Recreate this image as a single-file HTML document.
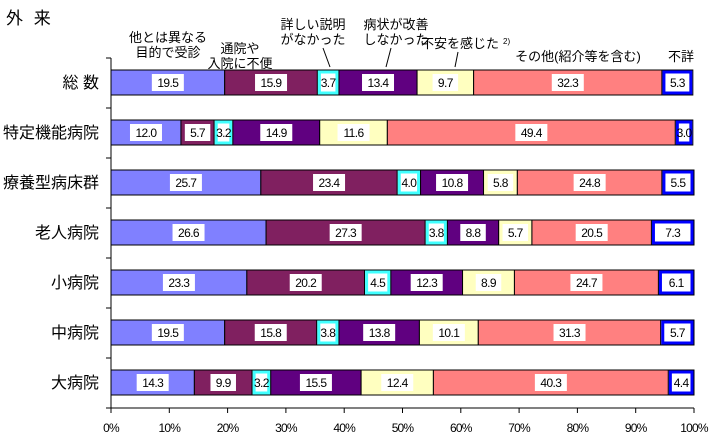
<!DOCTYPE html>
<html><head><meta charset="utf-8"><style>
body{margin:0;background:#fff;}
svg{display:block;font-family:"Liberation Sans","Noto Sans CJK JP",sans-serif;}
</style></head><body>
<svg id="chart" width="716" height="437">
<text x="6" y="24" font-size="17" letter-spacing="3">外 来</text>
<g id="g"></g>
</svg>
<script>
const categories=["総 数","特定機能病院","療養型病床群","老人病院","小病院","中病院","大病院"];
const seriesNames=["他とは異なる目的で受診","通院や入院に不便","詳しい説明がなかった","病状が改善しなかった","不安を感じた","その他(紹介等を含む)","不詳"];
const s1=[19.5,12.0,25.7,26.6,23.3,19.5,14.3];
const s2=[15.9,5.7,23.4,27.3,20.2,15.8,9.9];
const s3=[3.7,3.2,4.0,3.8,4.5,3.8,3.2];
const s4=[13.4,14.9,10.8,8.8,12.3,13.8,15.5];
const s5=[9.7,11.6,5.8,5.7,8.9,10.1,12.4];
const s6=[32.3,49.4,24.8,20.5,24.7,31.3,40.3];
const s7=[5.3,3.0,5.5,7.3,6.1,5.7,4.4];
const ticks=["0%","10%","20%","30%","40%","50%","60%","70%","80%","90%","100%"];
const series=[s1,s2,s3,s4,s5,s6,s7];
const colors=["#8080ff","#802060","#ffffff","#600080","#ffffc0","#ff8080","#ffffff"];
const borders=["#000","#000","#40ffff","#000","#000","#000","#0000ff"];
const NS="http://www.w3.org/2000/svg";
const g=document.getElementById('g');
const x0=111,x1=694,topY=58,rowH=50,barH=25;
const xs=v=>x0+v/100*(x1-x0);
function el(t,a){const e=document.createElementNS(NS,t);for(const k in a)e.setAttribute(k,a[k]);g.appendChild(e);return e;}
categories.forEach((c,i)=>{
  const y=topY+rowH*i+12;
  const t=el('text',{x:99,y:y+18,'font-size':16,'text-anchor':'end'});t.textContent=c;
  
  
  let cum=0;
  series.forEach((s,j)=>{
    const v=s[i];const xa=xs(cum),xb=xs(cum+v);cum+=v;
    const r=el('rect',{x:xa,y:y,width:xb-xa,height:barH,fill:colors[j],stroke:'#000','stroke-width':1});
    
    
    if(j==2||j==6){const r2=el('rect',{x:xa+2,y:y+2,width:xb-xa-4,height:barH-4,fill:'#fff',stroke:borders[j],'stroke-width':3});
      
      }
    const lbl=v.toFixed(1);const w=lbl.length*6.5+6;const cx=(xa+xb)/2;
    if(j!=2&&j!=6){const b=el('rect',{x:cx-w/2,y:y+4,width:w,height:barH-8,fill:'#fff'});
      
      }
    const tt=el('text',{x:cx,y:y+17,'font-size':12,'text-anchor':'middle','letter-spacing':'-0.6'});tt.textContent=lbl;
    
    
  });
});
const yAxis=el('line',{x1:x0,y1:topY,x2:x0,y2:topY+rowH*7,stroke:'#000'});


for(let i=0;i<=7;i++){const l=el('line',{x1:x0-5,y1:topY+rowH*i,x2:x0,y2:topY+rowH*i,stroke:'#000'});
  
  }
const xAxis=el('line',{x1:x0-5,y1:topY+rowH*7,x2:x1,y2:topY+rowH*7,stroke:'#000'});


ticks.forEach((t,i)=>{const x=xs(i*10);
  const l=el('line',{x1:x,y1:topY+rowH*7,x2:x,y2:topY+rowH*7+5,stroke:'#000'});
  
  
  const tx=el('text',{x:x,y:432,'font-size':12,'text-anchor':'middle','letter-spacing':'-0.8'});tx.textContent=t;
  
  });
const legend=[["他とは異なる","目的で受診",168,42],["通院や","入院に不便",240,53],["詳しい説明","がなかった",313,29],["病状が改善","しなかった",396,29],["不安を感じた","",460,48],["その他(紹介等を含む)","",578,61],["不詳","",681,61]];
legend.forEach(l=>{
  const a=el('text',{x:l[2],y:l[3],'font-size':13,'text-anchor':'middle'});a.textContent=l[0];
  
  
  if(l[1]){const b=el('text',{x:l[2],y:l[3]+15,'font-size':13,'text-anchor':'middle'});b.textContent=l[1];
    
    }
});
const sup=el('text',{x:503,y:44,'font-size':8});sup.textContent="2)";


[[323,48,330,67],[391,48,386,67],[458,52,455,67]].forEach(p=>{
  const l=el('line',{x1:p[0],y1:p[1],x2:p[2],y2:p[3],stroke:'#000'});
  
  });
</script>
</body></html>
